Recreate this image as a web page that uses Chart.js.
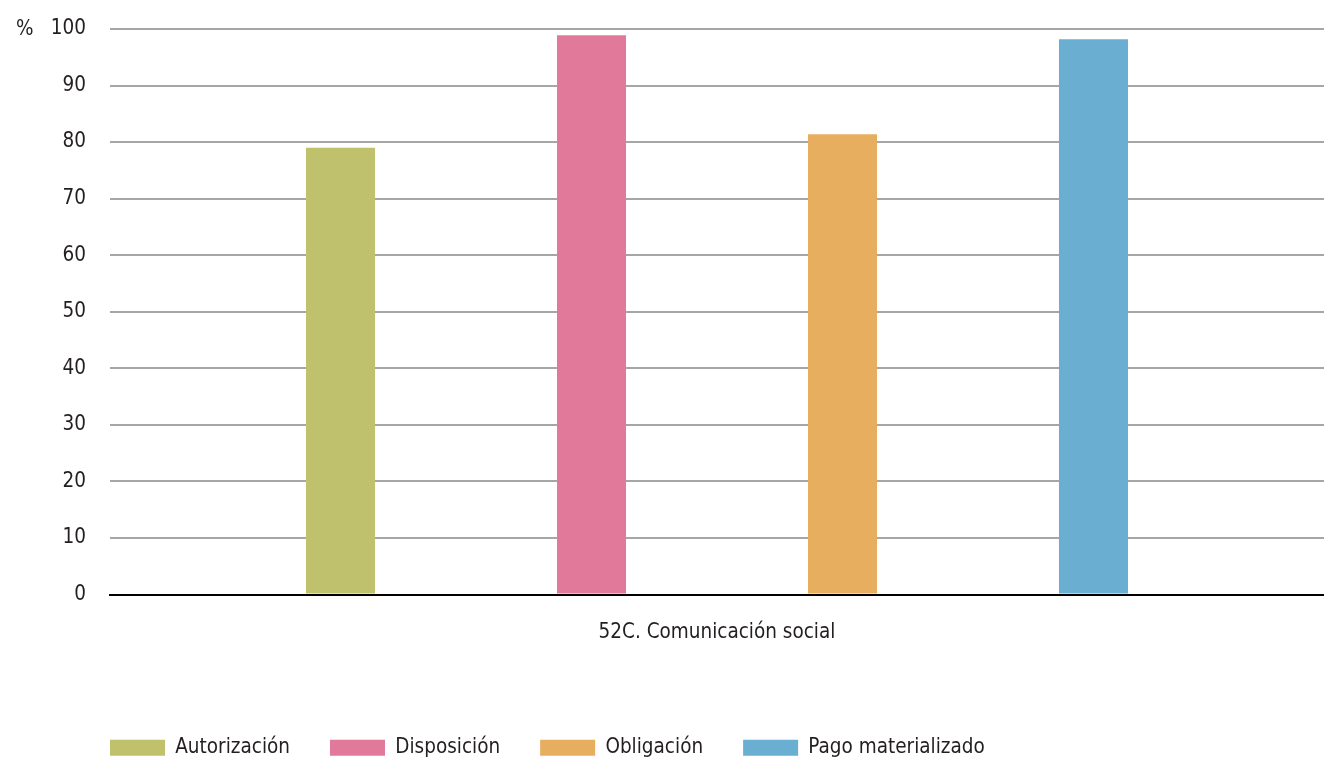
<!DOCTYPE html>
<html lang="es">
<head>
    <meta charset="UTF-8">
    <title>52C. Comunicación social</title>
    <script src="https://cdn.jsdelivr.net/npm/chart.js"></script>
    <style>
        html, body { margin: 0; padding: 0; background: #ffffff; }
        #wrap { width: 1324px; height: 758px; }
    </style>
</head>
<body>
    <div id="wrap"><canvas id="chart" width="1324" height="758"></canvas></div>
    <script>
        // data
        const categories = ["52C. Comunicación social"];
        const seriesNames = ["Autorización", "Disposición", "Obligación", "Pago materializado"];
        const autorizacion = [79.0];
        const disposicion = [98.9];
        const obligacion = [81.4];
        const pago = [98.2];
        const seriesColors = ["#bfc16c", "#e17a9a", "#e8ae60", "#6aaed1"];
        const yTicks = [0, 10, 20, 30, 40, 50, 60, 70, 80, 90, 100];

        const fontFamily = "'DejaVu Sans Condensed', 'DejaVu Sans', sans-serif";
        const textColor = "#231f20";
        const fontSize = 20.5;

        const seriesValues = [autorizacion, disposicion, obligacion, pago];
        const datasets = seriesNames.map(function (name, i) {
            return {
                label: name,
                data: seriesValues[i],
                backgroundColor: seriesColors[i],
                borderWidth: 0,
                categoryPercentage: 0.827,
                barPercentage: 0.275
            };
        });

        // "%" label next to the top tick, and legend placement tweak
        const extras = {
            id: "extras",
            afterLayout(chart) {
                const lg = chart.legend;
                lg.left += 70; lg.right += 70;
                lg.top += 10; lg.bottom += 10;
            },
            afterDraw(chart) {
                const ctx = chart.ctx;
                const y = chart.scales.y.getPixelForValue(100);
                ctx.save();
                ctx.font = fontSize + "px " + fontFamily;
                ctx.fillStyle = textColor;
                ctx.textBaseline = "middle";
                ctx.textAlign = "left";
                ctx.fillText("%", 16, y + 1);
                ctx.restore();
            }
        };

        Chart.defaults.font.family = fontFamily;
        Chart.defaults.font.size = fontSize;
        Chart.defaults.color = textColor;

        new Chart(document.getElementById("chart"), {
            type: "bar",
            data: { labels: categories, datasets: datasets },
            options: {
                responsive: false,
                animation: false,
                layout: { padding: { top: 29, right: 0, bottom: 0, left: 0 } },
                plugins: {
                    tooltip: { enabled: false },
                    legend: {
                        position: "bottom",
                        align: "start",
                        labels: {
                            boxWidth: 55,
                            boxHeight: 16,
                            padding: 40,
                            color: textColor,
                            font: { size: fontSize, family: fontFamily }
                        }
                    }
                },
                scales: {
                    x: {
                        grid: { display: false, drawTicks: false },
                        border: { display: true, color: "#000000", width: 2 },
                        ticks: { padding: 26, color: textColor, font: { size: fontSize } },
                        afterFit(scale) { scale.height = 93; }
                    },
                    y: {
                        min: 0,
                        max: 100,
                        afterBuildTicks(scale) {
                            scale.ticks = yTicks.map(function (v) { return { value: v }; });
                        },
                        grid: {
                            color: function (c) { return c.tick && c.tick.value === 0 ? "#000000" : "#a6a6a6"; },
                            lineWidth: 2,
                            drawTicks: false
                        },
                        border: { display: false },
                        ticks: { padding: 24, color: textColor, font: { size: fontSize } },
                        afterFit(scale) {
                            scale.width = 110;
                            scale.paddingTop = 0;
                            scale.paddingBottom = 0;
                        }
                    }
                }
            },
            plugins: [extras]
        });
    </script>
</body>
</html>
